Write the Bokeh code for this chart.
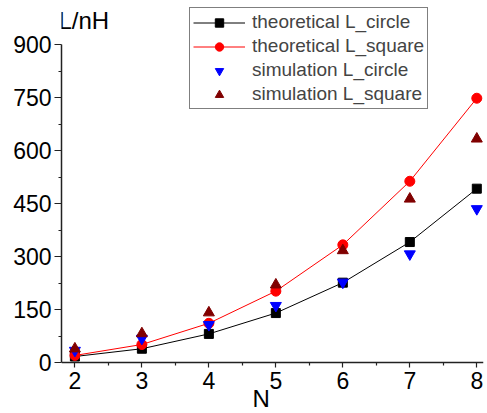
from bokeh.plotting import figure
from bokeh.models import FixedTicker, Legend, LegendItem, Label, Range1d
from bokeh.embed import file_html
from bokeh.resources import INLINE

N = [2, 3, 4, 5, 6, 7, 8]
theo_circle = [17, 39, 81, 140, 226, 341, 492]
theo_square = [20, 51, 111, 202, 333, 513, 748]
sim_circle = [34, 68, 107, 161, 227, 307, 435]
sim_square = [39, 82, 141, 220, 317, 463, 633]
y_ticks = [0, 150, 300, 450, 600, 750, 900]
x_ticks = [2, 3, 4, 5, 6, 7, 8]

FONT = "Liberation Sans"

p = figure(width=487, height=413, output_backend="svg", toolbar_location=None,
           x_range=Range1d(1.8, 8.1), y_range=Range1d(-144.3, 1024.6),
           min_border_left=61, min_border_right=4, min_border_top=0, min_border_bottom=0)
p.outline_line_color = None
p.xgrid.visible = False
p.ygrid.visible = False

for ax in (p.xaxis[0], p.yaxis[0]):
    ax.major_label_text_font = FONT
    ax.major_label_text_font_size = "23px"
    ax.major_label_text_color = "black"
    ax.axis_line_color = "#222222"
    ax.axis_line_width = 1.5
    ax.major_tick_line_color = "#222222"
    ax.minor_tick_line_color = "#222222"
    ax.major_tick_line_width = 1.2
    ax.minor_tick_line_width = 1.2
    ax.major_tick_in = 0
    ax.minor_tick_in = 0

p.xaxis.ticker = FixedTicker(ticks=x_ticks, minor_ticks=[2.5, 3.5, 4.5, 5.5, 6.5, 7.5])
p.yaxis.ticker = FixedTicker(ticks=y_ticks, minor_ticks=[75, 225, 375, 525, 675, 825])
p.yaxis.bounds = (0, 900)
p.xaxis.fixed_location = 0
p.xaxis.major_tick_out = 5
p.xaxis.minor_tick_out = 3
p.yaxis.major_tick_out = 7
p.yaxis.minor_tick_out = 3
p.xaxis.major_label_standoff = 4
p.yaxis.major_label_standoff = 3

l1 = p.line(N, theo_circle, line_color="black", line_width=1)
m1 = p.scatter(N, theo_circle, marker="square", size=9, fill_color="black", line_color="black")
l2 = p.line(N, theo_square, line_color="red", line_width=1)
m2 = p.scatter(N, theo_square, marker="circle", size=10, fill_color="red", line_color="red")
m3 = p.scatter(N, sim_circle, marker="inverted_triangle", size=11, fill_color="blue", line_color="blue")
m4 = p.scatter(N, sim_square, marker="triangle", size=11, fill_color="#800000", line_color="#800000")

legend = Legend(items=[
    LegendItem(label="theoretical L_circle", renderers=[l1, m1]),
    LegendItem(label="theoretical L_square", renderers=[l2, m2]),
    LegendItem(label="simulation L_circle", renderers=[m3]),
    LegendItem(label="simulation L_square", renderers=[m4]),
], location=(128, 304))
legend.label_text_font = FONT
legend.label_text_font_size = "19px"
legend.glyph_width = 52
legend.glyph_height = 21
legend.label_height = 21
legend.label_standoff = 7
legend.spacing = 2
legend.padding = 3
legend.margin = 0
legend.border_line_color = "black"
legend.border_line_width = 1
legend.background_fill_alpha = 1
p.add_layout(legend, "center")

p.add_layout(Label(x=1.755, y=968, text="L/nH", text_font=FONT, text_font_size="24px",
                   text_align="left", text_baseline="alphabetic", text_color="black"))
p.add_layout(Label(x=4.78, y=-103, text="N", text_font=FONT, text_font_size="24px",
                   text_align="center", text_baseline="alphabetic", text_color="black"))

open("out.html", "w").write(file_html(p, INLINE))
